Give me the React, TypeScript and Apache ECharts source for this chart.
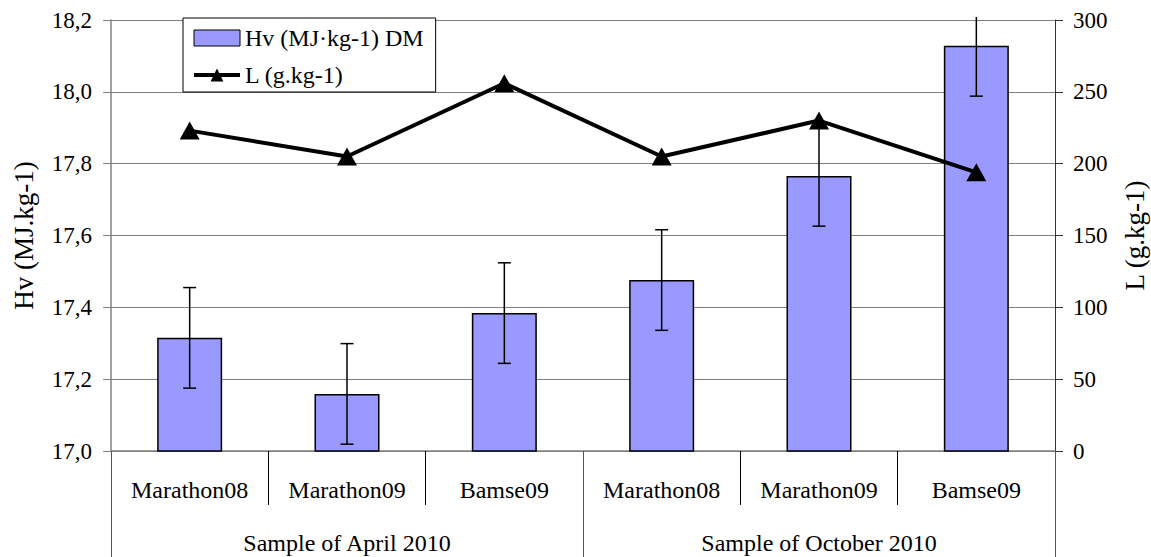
import React, { useEffect, useRef } from "react";
import * as echarts from "echarts";

const categories = ["Marathon08", "Marathon09", "Bamse09", "Marathon08", "Marathon09", "Bamse09"];
const groups = ["Sample of April 2010", "Sample of October 2010"];
const hvMean = [17.315, 17.159, 17.384, 17.476, 17.766, 18.128];
const hvErr = [0.14, 0.14, 0.14, 0.14, 0.14, 0.14];
const lValues = [223, 205, 256, 205, 230, 194];

const FONT = "Liberation Serif";

export default function App() {
  const ref = useRef<HTMLDivElement>(null);
  useEffect(() => {
    if (!ref.current) return;
    const chart = echarts.init(ref.current, null, { renderer: "svg" });
    const errData = hvMean.map((m, i) => [i, m - hvErr[i], m + hvErr[i]]);
    chart.setOption({
      animation: false,
      backgroundColor: "#fff",
      textStyle: { fontFamily: FONT, color: "#000" },
      grid: { left: 111, right: 96, top: 20, bottom: 106, containLabel: false, outerBoundsMode: "none" },
      legend: {
        left: 183,
        top: 18,
        orient: "vertical",
        backgroundColor: "#fff",
        borderColor: "#000",
        borderWidth: 1,
        padding: [8, 12, 5, 9],
        itemWidth: 46,
        itemHeight: 16,
        itemGap: 13,
        textStyle: { fontFamily: FONT, fontSize: 24, color: "#000" },
        data: [
          { name: "Hv (MJ·kg-1) DM", icon: "rect", itemStyle: { color: "#9999FF", borderColor: "#000", borderWidth: 1 } },
          { name: "L (g.kg-1)", itemStyle: { color: "#000" }, lineStyle: { color: "#000", width: 4 } },
        ],
      },
      xAxis: [
        {
          type: "category",
          data: categories,
          position: "bottom",
          axisLine: { show: true, lineStyle: { color: "#808080", width: 1.5 } },
          axisTick: { show: true, interval: 0, length: 54, lineStyle: { color: "#000", width: 1 } },
          axisLabel: { interval: 0, margin: 27, fontFamily: FONT, fontSize: 24, color: "#000" },
        },
        {
          type: "category",
          data: groups,
          position: "bottom",
          axisLine: { show: false },
          axisTick: { show: true, interval: 0, length: 106, lineStyle: { color: "#555", width: 1 } },
          axisLabel: { interval: 0, margin: 80, fontFamily: FONT, fontSize: 24, color: "#000" },
        },
      ],
      yAxis: [
        {
          type: "value",
          min: 17,
          max: 18.2,
          interval: 0.2,
          name: "Hv (MJ.kg-1)",
          nameLocation: "middle",
          nameGap: 74,
          nameTextStyle: { fontFamily: FONT, fontSize: 27, color: "#000" },
          axisLine: { show: true, lineStyle: { color: "#808080", width: 1.5 } },
          axisTick: { show: true, length: 8, lineStyle: { color: "#808080" } },
          axisLabel: {
            margin: 19,
            fontFamily: FONT,
            fontSize: 23,
            color: "#000",
            formatter: (v: number) => v.toFixed(1).replace(".", ","),
          },
          splitLine: { show: true, lineStyle: { color: "#808080", width: 1.2 } },
        },
        {
          type: "value",
          min: 0,
          max: 300,
          interval: 50,
          position: "right",
          name: "L (g.kg-1)",
          nameLocation: "middle",
          nameGap: 66,
          nameRotate: 90,
          nameTextStyle: { fontFamily: FONT, fontSize: 27, color: "#000" },
          axisLine: { show: true, lineStyle: { color: "#333", width: 1 } },
          axisTick: { show: true, length: 8, lineStyle: { color: "#333" } },
          axisLabel: { margin: 18, fontFamily: FONT, fontSize: 23, color: "#000" },
          splitLine: { show: false },
        },
      ],
      series: [
        {
          name: "Hv (MJ·kg-1) DM",
          type: "bar",
          xAxisIndex: 0,
          yAxisIndex: 0,
          data: hvMean,
          barWidth: 65,
          itemStyle: { color: "#9999FF", borderColor: "#000", borderWidth: 1.5 },
          z: 2,
        },
        {
          name: "errors",
          type: "custom",
          xAxisIndex: 0,
          yAxisIndex: 0,
          data: errData,
          encode: { x: 0, y: [1, 2] },
          clip: false,
          z: 3,
          renderItem: (params: any, api: any) => {
            const idx = api.value(0);
            const lo = api.coord([idx, api.value(1)]);
            const hi = api.coord([idx, api.value(2)]);
            const cs = params.coordSys;
            const top = cs.y - 3;
            const clipped = hi[1] < top;
            const hy = Math.max(hi[1], top);
            const x = lo[0];
            const half = 6.5;
            const style = { stroke: "#000", lineWidth: 1.5 };
            const children: any[] = [
              { type: "line", shape: { x1: x, y1: hy, x2: x, y2: lo[1] }, style },
              { type: "line", shape: { x1: x - half, y1: lo[1], x2: x + half, y2: lo[1] }, style },
            ];
            if (!clipped) {
              children.push({ type: "line", shape: { x1: x - half, y1: hy, x2: x + half, y2: hy }, style });
            }
            return { type: "group", children };
          },
        },
        {
          name: "L (g.kg-1)",
          type: "line",
          xAxisIndex: 0,
          yAxisIndex: 1,
          data: lValues,
          symbol: "triangle",
          symbolSize: [20, 18],
          lineStyle: { color: "#000", width: 4 },
          itemStyle: { color: "#000" },
          z: 5,
        },
      ],
    });
    return () => chart.dispose();
  }, []);
  return <div ref={ref} style={{ position: "absolute", left: 0, top: 0, width: 1151, height: 557 }} />;
}
